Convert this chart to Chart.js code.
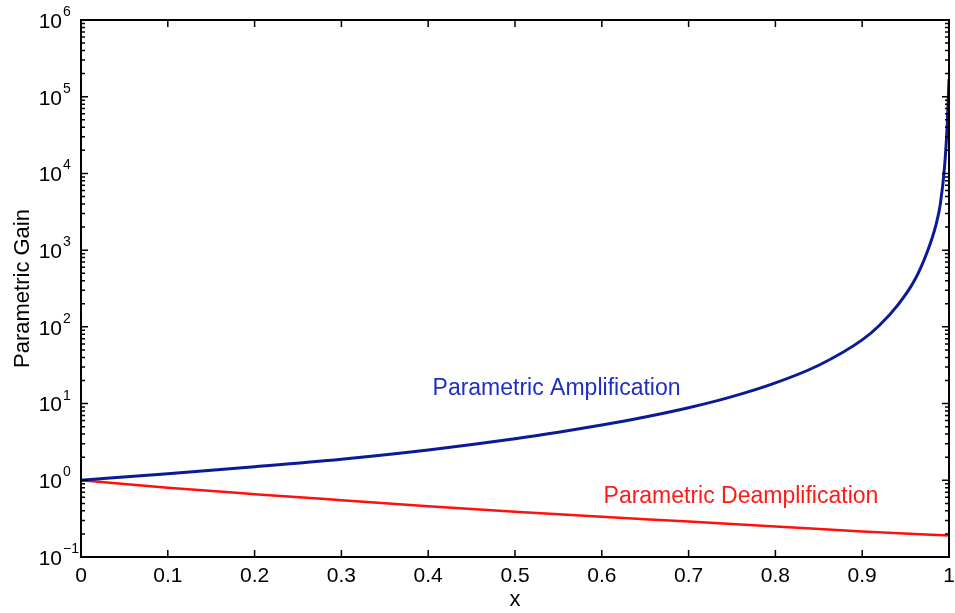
<!DOCTYPE html>
<html>
<head>
<meta charset="utf-8">
<script src="https://cdn.jsdelivr.net/npm/chart.js@4.4.0/dist/chart.umd.min.js"></script>
<style>
  html, body { margin: 0; padding: 0; background: #fff; }
</style>
</head>
<body>
<canvas id="gain" width="955" height="613"></canvas>
<script>
// values
const ampX    = [0, 0.1, 0.2, 0.3, 0.4, 0.5, 0.55, 0.6, 0.65, 0.7, 0.75, 0.8, 0.85, 0.9, 0.92, 0.94, 0.96, 0.975, 0.985, 0.99, 0.995, 0.998, 1.0];
const ampGain = [1, 1.22, 1.5, 1.88, 2.48, 3.47, 4.22, 5.25, 6.68, 8.81, 12.3, 18.6, 31.6, 67.6, 105, 186, 398, 955, 2140, 3980, 12600, 44700, 170000];

const deampX    = [0, 0.1, 0.2, 0.3, 0.4, 0.5, 0.6, 0.7, 0.8, 0.9, 1.0];
const deampGain = [1, 0.80, 0.66, 0.55, 0.46, 0.39, 0.335, 0.29, 0.25, 0.215, 0.19];

const xTicks   = [0, 0.1, 0.2, 0.3, 0.4, 0.5, 0.6, 0.7, 0.8, 0.9, 1];
const yDecades = [-1, 0, 1, 2, 3, 4, 5, 6];

const FONT = '"Liberation Sans", Arial, Helvetica, sans-serif';

// frame, inward ticks, 10^n labels and the two curve labels
const framePlugin = {
    id: 'frame',
    afterDatasetsDraw(chart) {
        const { ctx, chartArea: a, scales: { x, y } } = chart;
        ctx.save();
        ctx.strokeStyle = '#000';
        ctx.lineWidth = 2;
        ctx.strokeRect(a.left, a.top, a.right - a.left, a.bottom - a.top);

        ctx.lineWidth = 1.5;
        ctx.beginPath();
        xTicks.forEach(v => {
            const px = x.getPixelForValue(v);
            ctx.moveTo(px, a.bottom); ctx.lineTo(px, a.bottom - 7);
            ctx.moveTo(px, a.top);    ctx.lineTo(px, a.top + 7);
        });
        for (let e = -1; e <= 6; e++) {
            for (let m = 1; m <= 9; m++) {
                const v = m * Math.pow(10, e);
                if (v > 1e6) break;
                const len = m === 1 ? 7 : 4;
                const py = y.getPixelForValue(v);
                ctx.moveTo(a.left, py);  ctx.lineTo(a.left + len, py);
                ctx.moveTo(a.right, py); ctx.lineTo(a.right - len, py);
            }
        }
        ctx.stroke();

        ctx.fillStyle = '#000';
        yDecades.forEach(e => {
            const py = y.getPixelForValue(Math.pow(10, e));
            ctx.font = '21px ' + FONT;
            ctx.textAlign = 'right';
            ctx.textBaseline = 'middle';
            ctx.fillText('10', 62, py + 2);
            ctx.font = '14px ' + FONT;
            ctx.textAlign = 'left';
            ctx.textBaseline = 'alphabetic';
            ctx.fillText(e < 0 ? '\u2212' + (-e) : String(e), 63, py - 4);
        });

        ctx.font = '23px ' + FONT;
        ctx.textAlign = 'left';
        ctx.fillStyle = '#1f2fc4';
        ctx.fillText('Parametric Amplification', x.getPixelForValue(0.405), y.getPixelForValue(13));
        ctx.fillStyle = '#ff1a1a';
        ctx.fillText('Parametric Deamplification', x.getPixelForValue(0.602), y.getPixelForValue(0.5));
        ctx.restore();
    }
};

new Chart(document.getElementById('gain'), {
    type: 'line',
    data: {
        datasets: [
            {
                label: 'Parametric Amplification',
                data: ampX.map((v, i) => ({ x: v, y: ampGain[i] })),
                borderColor: '#0b1a96',
                borderWidth: 3,
                pointRadius: 0,
                cubicInterpolationMode: 'monotone'
            },
            {
                label: 'Parametric Deamplification',
                data: deampX.map((v, i) => ({ x: v, y: deampGain[i] })),
                borderColor: '#ff1010',
                borderWidth: 2.5,
                pointRadius: 0,
                cubicInterpolationMode: 'monotone'
            }
        ]
    },
    options: {
        responsive: false,
        animation: false,
        layout: { padding: { top: 20, right: 0, left: 0, bottom: 0 } },
        plugins: { legend: { display: false }, tooltip: { enabled: false } },
        scales: {
            x: {
                type: 'linear',
                min: 0,
                max: 1,
                afterBuildTicks: s => { s.ticks = xTicks.map(v => ({ value: v })); },
                afterFit: s => { s.height = 56; s.paddingRight = 6; s.paddingLeft = 0; },
                grid: { display: false, drawTicks: false },
                border: { display: false },
                ticks: {
                    padding: 7,
                    color: '#000',
                    font: { family: FONT, size: 21 },
                    maxRotation: 0,
                    callback: v => (v === 0 || v === 1) ? String(v) : v.toFixed(1)
                },
                title: {
                    display: true,
                    text: 'x',
                    color: '#000',
                    font: { family: FONT, size: 22 },
                    padding: { top: 0, bottom: 0 }
                }
            },
            y: {
                type: 'logarithmic',
                min: 0.1,
                max: 1e6,
                afterFit: s => { s.width = 81; },
                grid: { display: false, drawTicks: false },
                border: { display: false },
                ticks: { display: false },
                title: {
                    display: true,
                    text: 'Parametric Gain',
                    color: '#000',
                    font: { family: FONT, size: 22 },
                    padding: { top: 10, bottom: 0 }
                }
            }
        }
    },
    plugins: [framePlugin]
});
</script>
</body>
</html>
